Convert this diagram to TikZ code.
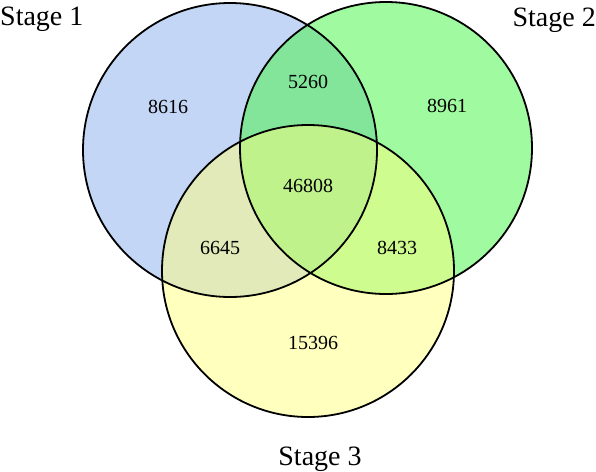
\documentclass[tikz,border=0pt]{standalone}
\usepackage{fontspec}
\setmainfont{Liberation Serif}
\usepackage{xcolor}
\usepackage{tikz}
\definecolor{stageone}{RGB}{137,173,235}
\definecolor{stagetwo}{RGB}{65,245,65}
\definecolor{stagethree}{RGB}{255,255,125}
\tikzset{
  setfill/.style={fill opacity=0.5},
  setline/.style={draw=black, line width=1.8pt},
  count/.style={font=\fontsize{20}{24}\selectfont, inner sep=0pt},
  stagename/.style={font=\fontsize{28}{32}\selectfont, inner sep=0pt}
}
\begin{document}
\begin{tikzpicture}[x=1pt,y=-1pt]
\useasboundingbox (0,0) rectangle (596,471);
\fill[stageone, setfill] (230,150) circle (147);
\fill[stagetwo, setfill] (386,148) circle (146);
\fill[stagethree, setfill] (308,271) circle (146);
\draw[setline] (230,150) circle (147);
\draw[setline] (386,148) circle (146);
\draw[setline] (308,271) circle (146);
\node[count] (onlyone) at (168,107) {8616};
\node[count] (onetwo) at (308,82) {5260};
\node[count] (onlytwo) at (447,106) {8961};
\node[count] (allthree) at (308,186) {46808};
\node[count] (onethree) at (220,248) {6645};
\node[count] (twothree) at (397,248) {8433};
\node[count] (onlythree) at (313,343) {15396};
\node[stagename, anchor=base west] (stageA) at (0,25) {Stage 1};
\node[stagename, anchor=base east] (stageB) at (596,26) {Stage 2};
\node[stagename, anchor=base] (stageC) at (320,465) {Stage 3};
\end{tikzpicture}
\end{document}
